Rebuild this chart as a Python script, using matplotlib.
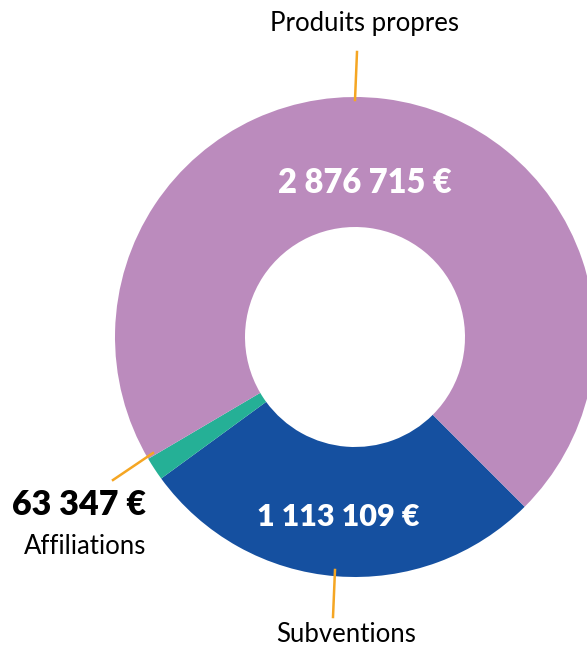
import matplotlib
matplotlib.use("Agg")
import matplotlib.pyplot as plt

categories = ["Subventions", "Affiliations", "Produits propres"]
values = [1113109, 63347, 2876715]
value_labels = ["1 113 109 €", "63 347 €", "2 876 715 €"]
colors = ["#1550A0", "#25B096", "#BB8BBD"]

W, H = 587, 647
fig = plt.figure(figsize=(W / 100, H / 100), dpi=100)
ax = fig.add_axes([0, 0, 1, 1])

cx, cy, R = 355, H - 337, 240
ax.pie(values, colors=colors, startangle=-45, counterclock=False,
       radius=R, center=(cx, cy), frame=True,
       wedgeprops=dict(width=R - 110, linewidth=0))
ax.set_xlim(0, W)
ax.set_ylim(0, H)
ax.axis("off")

font = "Lato"
orange = "#F5A623"
num_size = 23.5
lab_size = 18.5

# Produits propres
ax.text(365, H - 183, value_labels[2], color="white", fontsize=num_size, fontweight="heavy",
        family=font, ha="center", va="center")
ax.plot([355, 357], [H - 100, H - 52], color=orange, lw=1.8)
ax.text(365, H - 23, categories[2], color="black", fontsize=lab_size, family=font,
        ha="center", va="center")

# Subventions
ax.text(338, H - 517, value_labels[0], color="white", fontsize=22, fontweight="heavy",
        family=font, ha="center", va="center")
ax.plot([335, 333], [H - 570, H - 617], color=orange, lw=1.8)
ax.text(346, H - 635, categories[0], color="black", fontsize=lab_size, family=font,
        ha="center", va="center")

# Affiliations
ax.plot([153, 113], [H - 453, H - 480], color=orange, lw=1.8)
ax.text(79, H - 505, value_labels[1], color="black", fontsize=24.5, fontweight="heavy",
        family=font, ha="center", va="center")
ax.text(85, H - 547, categories[1], color="black", fontsize=lab_size, family=font,
        ha="center", va="center")

fig.savefig("out.png", dpi=100)
